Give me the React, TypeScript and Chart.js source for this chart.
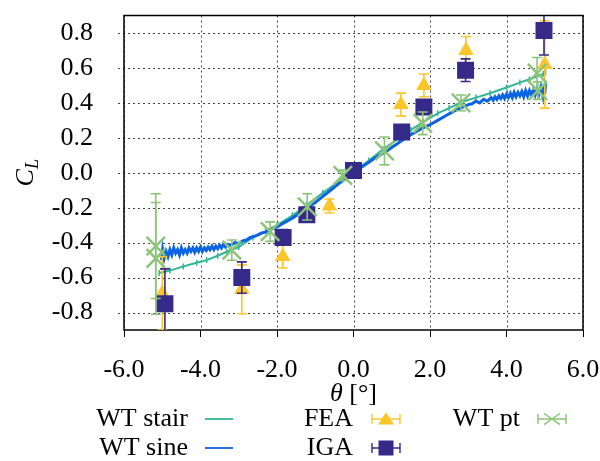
import React, { useEffect, useRef } from 'react';
import { Chart, registerables } from 'chart.js';
Chart.register(...registerables);

const xTicks = [-6, -4, -2, 0, 2, 4, 6];
const yTicks = [-0.8, -0.6, -0.4, -0.2, 0, 0.2, 0.4, 0.6, 0.8];

const stairTheta = [-5.08, -4.8, -4.45, -4.1, -3.84, -3.55, -3.31, -3.0, -2.63, -2.3, -2.0, -1.6, -1.22, -0.8, -0.35, 0.0, 0.4, 0.77, 1.2, 1.5, 1.82, 2.2, 2.5, 2.83, 3.2, 3.57, 4.0, 4.35, 4.6, 4.96, 5.02];
const stairCL = [-0.574, -0.56, -0.536, -0.515, -0.5, -0.475, -0.452, -0.425, -0.37, -0.335, -0.3, -0.245, -0.185, -0.115, -0.045, 0.005, 0.07, 0.134, 0.2, 0.245, 0.29, 0.34, 0.37, 0.405, 0.43, 0.455, 0.488, 0.516, 0.535, 0.565, 0.575];

const sineTheta = [-5.02, -4.99, -4.95, -4.9, -4.85, -4.8, -4.75, -4.7, -4.65, -4.6, -4.55, -4.5, -4.45, -4.4, -4.35, -4.3, -4.25, -4.2, -4.15, -4.1, -4.05, -4.0, -3.95, -3.9, -3.85, -3.8, -3.75, -3.7, -3.65, -3.6, -3.55, -3.5, -3.45, -3.4, -3.35, -3.3, -3.2, -3.1, -3.0, -2.9, -2.8, -2.7, -2.6, -2.5, -2.4, -2.3, -2.2, -2.1, -2.0, -1.8, -1.6, -1.4, -1.2, -1.0, -0.8, -0.6, -0.4, -0.2, 0.0, 0.2, 0.4, 0.6, 0.8, 1.0, 1.2, 1.4, 1.6, 1.8, 2.0, 2.2, 2.4, 2.6, 2.8, 3.0, 3.1, 3.2, 3.3, 3.4, 3.5, 3.6, 3.65, 3.7, 3.75, 3.8, 3.85, 3.9, 3.95, 4.0, 4.05, 4.1, 4.15, 4.2, 4.25, 4.3, 4.35, 4.4, 4.45, 4.5, 4.55, 4.6, 4.65, 4.7, 4.75, 4.8, 4.85, 4.9, 4.95, 4.98, 5.0, 5.02];
const sineCL = [-0.5, -0.44, -0.49, -0.45, -0.48, -0.44, -0.47, -0.43, -0.46, -0.44, -0.47, -0.43, -0.46, -0.44, -0.46, -0.43, -0.45, -0.43, -0.455, -0.43, -0.45, -0.425, -0.45, -0.43, -0.445, -0.425, -0.44, -0.42, -0.44, -0.42, -0.435, -0.415, -0.43, -0.41, -0.425, -0.41, -0.415, -0.4, -0.405, -0.39, -0.385, -0.37, -0.365, -0.355, -0.345, -0.34, -0.33, -0.32, -0.31, -0.285, -0.26, -0.23, -0.2, -0.17, -0.135, -0.1, -0.065, -0.03, 0.0, 0.03, 0.06, 0.09, 0.115, 0.145, 0.175, 0.205, 0.23, 0.255, 0.275, 0.3, 0.325, 0.35, 0.37, 0.39, 0.395, 0.41, 0.4, 0.42, 0.41, 0.43, 0.415, 0.435, 0.42, 0.44, 0.425, 0.445, 0.425, 0.45, 0.43, 0.455, 0.43, 0.46, 0.435, 0.46, 0.44, 0.465, 0.435, 0.47, 0.44, 0.47, 0.445, 0.475, 0.445, 0.48, 0.45, 0.49, 0.44, 0.5, 0.45, 0.51];

const feaTheta = [-5.0, -2.92, -1.85, -0.63, 0.0, 1.24, 1.84, 2.94, 5.0];
const feaCL = [-0.69, -0.667, -0.48, -0.19, -0.01, 0.39, 0.5, 0.7, 0.62];
const feaErr = [0.21, 0.14, 0.065, 0.04, 0.02, 0.066, 0.065, 0.08, 0.25];

const igaTheta = [-4.93, -2.92, -1.84, -1.22, 0.0, 1.26, 1.84, 2.93, 4.98];
const igaCL = [-0.75, -0.6, -0.37, -0.24, 0.013, 0.233, 0.376, 0.587, 0.814];
const igaErr = [0.2, 0.09, 0.045, 0.03, 0.02, 0.02, 0.02, 0.065, 0.14];

const ptTheta = [-5.17, -5.17, -3.18, -2.18, -1.21, -0.28, 0.81, 1.81, 2.81, 4.8, 4.82];
const ptCL = [-0.42, -0.49, -0.443, -0.337, -0.195, -0.015, 0.125, 0.283, 0.4, 0.57, 0.47];
const ptErr = [0.3, 0.32, 0.058, 0.056, 0.075, 0.03, 0.08, 0.065, 0.045, 0.09, 0.05];

const C_STAIR = '#2fb795';
const C_SINE = '#0c63e4';
const C_FEA = '#fcc62b';
const C_IGA = '#362a89';
const C_PT = '#8cc47a';
const C_GRID = '#444';
const FONT = 'Liberation Serif, Times New Roman, serif';

const pts = (xs: number[], ys: number[]) => xs.map((x, i) => ({ x, y: ys[i] }));

function drawMarker(ctx: CanvasRenderingContext2D, kind: string, color: string, cx: number, cy: number, s: number) {
  ctx.save();
  if (kind === 'tri') {
    ctx.fillStyle = color;
    ctx.beginPath();
    ctx.moveTo(cx, cy - s * 0.85);
    ctx.lineTo(cx + s, cy + s * 0.7);
    ctx.lineTo(cx - s, cy + s * 0.7);
    ctx.closePath();
    ctx.fill();
  } else if (kind === 'sq') {
    ctx.fillStyle = color;
    ctx.fillRect(cx - s, cy - s, 2 * s, 2 * s);
  } else if (kind === 'x') {
    ctx.strokeStyle = color;
    ctx.lineWidth = 1.3;
    ctx.beginPath();
    ctx.moveTo(cx - s, cy - s * 0.7);
    ctx.lineTo(cx + s, cy + s * 0.7);
    ctx.moveTo(cx - s, cy + s * 0.7);
    ctx.lineTo(cx + s, cy - s * 0.7);
    ctx.stroke();
  }
  ctx.restore();
}

const decor = {
  id: 'decor',
  beforeDatasetsDraw(chart: any) {
    const { ctx, chartArea: a } = chart;
    const xs = chart.scales.x, ys = chart.scales.y;
    ctx.save();
    ctx.strokeStyle = C_GRID;
    ctx.lineWidth = 1;
    ctx.setLineDash([2, 3]);
    ctx.beginPath();
    xTicks.forEach((v) => {
      const px = Math.round(xs.getPixelForValue(v)) + 0.5;
      ctx.moveTo(px, a.top); ctx.lineTo(px, a.bottom);
    });
    yTicks.forEach((v) => {
      const py = Math.round(ys.getPixelForValue(v)) + 0.5;
      ctx.moveTo(a.left - 6, py); ctx.lineTo(a.right, py);
    });
    ctx.stroke();
    ctx.setLineDash([]);
    ctx.strokeStyle = '#000';
    ctx.lineWidth = 1.5;
    ctx.strokeRect(a.left, a.top, a.right - a.left, a.bottom - a.top);
    ctx.restore();
  },
  beforeDatasetDraw(chart: any, args: any) {
    const ds = chart.data.datasets[args.index];
    if (!ds.errors) return;
    const { ctx, chartArea: a } = chart;
    const xs = chart.scales.x, ys = chart.scales.y;
    ctx.save();
    ctx.beginPath();
    ctx.rect(a.left, a.top, a.right - a.left, a.bottom - a.top);
    ctx.clip();
    ctx.strokeStyle = ds.errColor;
    ctx.lineWidth = 1.6;
    const cap = ds.capHalf;
    ds.data.forEach((p: any, i: number) => {
      const e = ds.errors[i];
      const px = xs.getPixelForValue(p.x);
      const y1 = ys.getPixelForValue(p.y + e);
      const y2 = ys.getPixelForValue(p.y - e);
      ctx.beginPath();
      ctx.moveTo(px, y1); ctx.lineTo(px, y2);
      ctx.moveTo(px - cap, y1); ctx.lineTo(px + cap, y1);
      ctx.moveTo(px - cap, y2); ctx.lineTo(px + cap, y2);
      ctx.stroke();
    });
    ctx.restore();
  },
  afterDraw(chart: any) {
    const { ctx, chartArea: a } = chart;
    ctx.save();
    ctx.fillStyle = '#000';
    ctx.textBaseline = 'alphabetic';
    const cx = (a.left + a.right) / 2;
    ctx.font = 'italic 26px ' + FONT;
    const wT = ctx.measureText('θ').width;
    ctx.font = '26px ' + FONT;
    const wR = ctx.measureText(' [°]').width;
    const sx = cx - (wT + wR) / 2;
    ctx.font = 'italic 26px ' + FONT;
    ctx.fillText('θ', sx, 401);
    ctx.font = '26px ' + FONT;
    ctx.fillText(' [°]', sx + wT, 401);
    const cy = (a.top + a.bottom) / 2;
    ctx.save();
    ctx.translate(33, cy);
    ctx.rotate(-Math.PI / 2);
    ctx.font = 'italic 26px ' + FONT;
    const wC = ctx.measureText('C').width;
    ctx.font = 'italic 18px ' + FONT;
    const wL = ctx.measureText('L').width;
    const st = -(wC + wL) / 2;
    ctx.font = 'italic 26px ' + FONT;
    ctx.fillText('C', st, 0);
    ctx.font = 'italic 18px ' + FONT;
    ctx.fillText('L', st + wC, 5);
    ctx.restore();
    const cols = [{ tr: 188, sx: 205 }, { tr: 353, sx: 372 }, { tr: 520, sx: 538 }];
    const rows = [{ base: 426, sy: 419 }, { base: 455, sy: 448 }];
    const items = [
      { label: 'WT stair', col: 0, row: 0, kind: 'line', color: C_STAIR },
      { label: 'WT sine', col: 0, row: 1, kind: 'line', color: C_SINE },
      { label: 'FEA', col: 1, row: 0, kind: 'tri', color: C_FEA },
      { label: 'IGA', col: 1, row: 1, kind: 'sq', color: C_IGA },
      { label: 'WT pt', col: 2, row: 0, kind: 'x', color: C_PT },
    ];
    ctx.font = '26px ' + FONT;
    items.forEach((it) => {
      const c = cols[it.col], r = rows[it.row];
      ctx.textAlign = 'right';
      ctx.fillStyle = '#000';
      ctx.fillText(it.label, c.tr, r.base);
      const x0 = c.sx, x1 = c.sx + 28, y = r.sy;
      ctx.strokeStyle = it.color;
      if (it.kind === 'line') {
        ctx.lineWidth = 1.8;
        ctx.beginPath(); ctx.moveTo(x0, y); ctx.lineTo(x1, y); ctx.stroke();
      } else {
        ctx.lineWidth = 1.4;
        ctx.beginPath();
        ctx.moveTo(x0, y); ctx.lineTo(x1, y);
        ctx.moveTo(x0, y - 5); ctx.lineTo(x0, y + 5);
        ctx.moveTo(x1, y - 5); ctx.lineTo(x1, y + 5);
        ctx.stroke();
        const m = (x0 + x1) / 2;
        if (it.kind === 'tri') drawMarker(ctx, 'tri', it.color, m, y, 8);
        if (it.kind === 'sq') drawMarker(ctx, 'sq', it.color, m, y, 7.5);
        if (it.kind === 'x') drawMarker(ctx, 'x', it.color, m, y, 8);
      }
    });
    ctx.restore();
  },
};

export default function App() {
  const ref = useRef<HTMLCanvasElement>(null);
  useEffect(() => {
    if (!ref.current) return;
    const chart = new Chart(ref.current, {
      type: 'scatter',
      data: {
        datasets: [
          {
            label: 'WT stair', data: pts(stairTheta, stairCL), showLine: true,
            borderColor: C_STAIR, backgroundColor: C_STAIR, borderWidth: 2,
            pointStyle: 'line', rotation: 90, pointRadius: 3, pointBorderWidth: 1.5, order: 5,
          },
          {
            label: 'WT sine', data: pts(sineTheta, sineCL), showLine: true,
            borderColor: C_SINE, backgroundColor: C_SINE, borderWidth: 3, pointRadius: 0, order: 4,
          },
          {
            label: 'FEA', data: pts(feaTheta, feaCL), pointStyle: 'triangle', pointRadius: 9,
            backgroundColor: C_FEA, borderColor: C_FEA, pointBorderWidth: 0, order: 3,
            errors: feaErr, errColor: C_FEA, capHalf: 5,
          } as any,
          {
            label: 'IGA', data: pts(igaTheta, igaCL), pointStyle: 'rect', pointRadius: 12,
            backgroundColor: C_IGA, borderColor: C_IGA, pointBorderWidth: 0, order: 2,
            errors: igaErr, errColor: C_IGA, capHalf: 5,
          } as any,
          {
            label: 'WT pt', data: pts(ptTheta, ptCL), pointStyle: 'crossRot', pointRadius: 13,
            backgroundColor: C_PT, borderColor: C_PT, pointBorderWidth: 2.5, order: 1,
            errors: ptErr, errColor: C_PT, capHalf: 5,
          } as any,
        ],
      },
      options: {
        animation: false,
        responsive: false,
        devicePixelRatio: 1,
        events: [],
        layout: { padding: { left: 0, top: 7, right: 17, bottom: 0 } },
        plugins: { legend: { display: false }, tooltip: { enabled: false } },
        scales: {
          x: {
            type: 'linear', min: -6, max: 6,
            afterBuildTicks: (s: any) => { s.ticks = xTicks.map((v) => ({ value: v })); },
            afterFit: (s: any) => { s.height = 131; s.paddingLeft = 0; s.paddingRight = 0; },
            ticks: {
              color: '#000', font: { family: FONT, size: 26 }, padding: 18,
              autoSkip: false, maxRotation: 0,
              callback: (v: any) => Number(v).toFixed(1),
            },
            grid: { drawOnChartArea: false, color: '#000', lineWidth: 1, tickLength: 7, tickColor: '#000' },
            border: { display: false },
          },
          y: {
            type: 'linear', min: -0.9, max: 0.9,
            afterBuildTicks: (s: any) => { s.ticks = yTicks.map((v) => ({ value: v })); },
            afterFit: (s: any) => { s.width = 124; s.paddingTop = 0; s.paddingBottom = 0; },
            ticks: {
              color: '#000', font: { family: FONT, size: 26 }, padding: 25,
              autoSkip: false,
              callback: (v: any) => Number(v).toFixed(1),
            },
            grid: { display: true, drawOnChartArea: false, drawTicks: true, color: 'rgba(0,0,0,0)', tickLength: 6, tickColor: 'rgba(0,0,0,0)' },
            border: { display: false },
          },
        },
      },
      plugins: [decor],
    });
    return () => chart.destroy();
  }, []);
  return (
    <div style={{ position: 'absolute', left: 0, top: 0, width: 600, height: 461 }}>
      <canvas ref={ref} width={600} height={461} style={{ display: 'block', width: 600, height: 461 }} />
    </div>
  );
}
